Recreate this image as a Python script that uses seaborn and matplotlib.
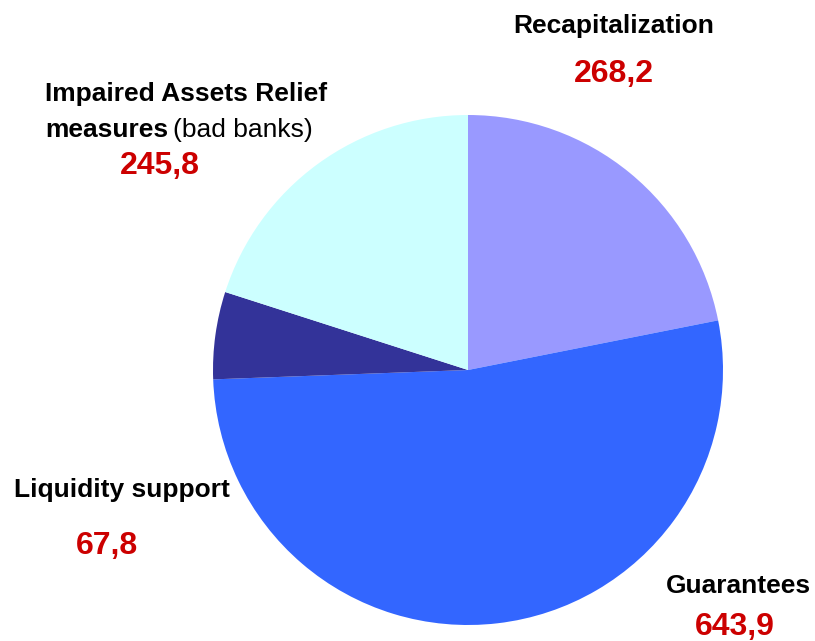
import matplotlib
matplotlib.use("Agg")
import matplotlib.pyplot as plt
import seaborn as sns

categories = ["Recapitalization", "Guarantees", "Liquidity support", "Impaired Assets Relief measures"]
values = [268.2, 643.9, 67.8, 245.8]
value_labels = ["268,2", "643,9", "67,8", "245,8"]
colors = ["#9999FF", "#3366FF", "#333399", "#CCFFFF"]

sns.set_theme(style="white")
plt.rcParams['font.family'] = ['Liberation Sans', 'DejaVu Sans']

W, H = 815, 641
fig = plt.figure(figsize=(W / 100, H / 100), dpi=100)
ax = fig.add_axes([0, 0, 1, 1])

def Y(y):
    return H - y

ax.pie(values, colors=colors, startangle=90, counterclock=False,
       center=(468, Y(370)), radius=255, frame=True,
       wedgeprops=dict(linewidth=0))
ax.set_xlim(0, W)
ax.set_ylim(0, H)
ax.set_aspect("equal")
ax.axis("off")

lab = dict(fontsize=19, fontweight="bold", color="black", va="center")
num = dict(fontsize=23, fontweight="bold", color="#CC0000", va="center")

ax.text(614, Y(26), categories[0], ha="center", **lab)
ax.text(614, Y(74), value_labels[0], ha="center", **num)

ax.text(738, Y(586), categories[1], ha="center", **lab)
ax.text(735, Y(627), value_labels[1], ha="center", **num)

ax.text(122, Y(490), categories[2], ha="center", **lab)
ax.text(107, Y(546), value_labels[2], ha="center", **num)

ax.text(45, Y(94), "Impaired Assets Relief", ha="left", **lab)
t1 = ax.text(45, Y(130), "measures", ha="left", **lab)
fig.canvas.draw()
bb = t1.get_window_extent()
ax.text(bb.x1 + 5, Y(130), "(bad banks)", ha="left", fontsize=19, color="black", va="center")
ax.text(160, Y(166), value_labels[3], ha="center", **num)

fig.savefig("out.png", dpi=100)
